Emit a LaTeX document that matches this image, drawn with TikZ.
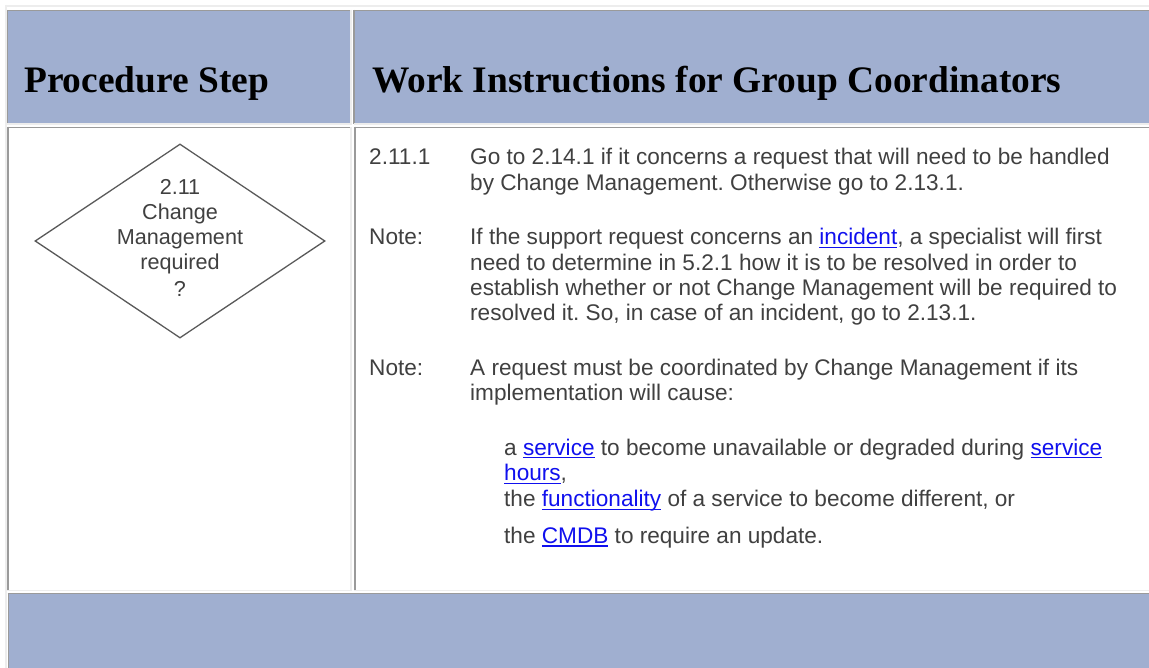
\documentclass[tikz,border=0pt]{standalone}
\usepackage{fontspec}
\setmainfont{Liberation Sans}
\newfontfamily\headfont{Liberation Serif}
\usetikzlibrary{shapes.geometric}
\frenchspacing

\definecolor{headblue}{HTML}{A0AFD0}
\definecolor{edgedark}{HTML}{9A9A9A}
\definecolor{edgelight}{HTML}{EDEDED}
\definecolor{bodygray}{HTML}{404040}
\definecolor{linkblue}{HTML}{1010EE}
\definecolor{shapegray}{HTML}{5A5A5A}

% underlined hyperlink-style text
\newcommand\weblink[1]{\textcolor{linkblue}{\setbox0\hbox{#1}\rlap{\rule[-3.4pt]{\wd0}{1.4pt}}\box0}}

\begin{document}
\begin{tikzpicture}[x=1pt,y=-1pt,
  darkedge/.style={draw=edgedark,line width=1.5pt},
  lightedge/.style={draw=edgelight,line width=1.6pt},
  headcell/.style={fill=headblue},
  headtext/.style={anchor=base west,inner sep=0pt,text=black,
    font=\headfont\bfseries\fontsize{37.4}{44}\selectfont},
  body/.style={anchor=base west,inner sep=0pt,text=bodygray,
    font=\fontsize{22.6}{25.5}\selectfont},
  steptext/.style={anchor=base,inner sep=0pt,text=bodygray,
    font=\fontsize{21.6}{25}\selectfont},
  decision/.style={diamond,draw=shapegray,line width=1.3pt,
    minimum width=290pt,minimum height=194pt,inner sep=0pt}]
\useasboundingbox (0,0) rectangle (1149,668);
\fill[white] (0,0) rectangle (1149,668);

% outer table edge (top and left)
\draw[lightedge] (5,6) -- (1149,6);
\draw[lightedge] (6,5) -- (6,668);

% header row, left cell
\fill[headcell] (8,11) rectangle (350,123);
\draw[darkedge] (7,10.7) -- (351,10.7);
\draw[darkedge] (7.7,10) -- (7.7,124);
\draw[lightedge] (7,123.8) -- (351.6,123.8);
\draw[lightedge] (350.8,10) -- (350.8,124.5);

% header row, right cell
\fill[headcell] (354.5,11) rectangle (1149,123);
\draw[darkedge] (353.5,10.7) -- (1149,10.7);
\draw[darkedge] (354.2,10) -- (354.2,124);
\draw[lightedge] (353.5,123.8) -- (1149,123.8);

% body row, left cell
\draw[darkedge] (7,127.4) -- (351,127.4);
\draw[darkedge] (8.2,126.7) -- (8.2,591);
\draw[lightedge] (7,590.6) -- (351.6,590.6);
\draw[lightedge] (350.8,126.7) -- (350.8,591.4);

% body row, right cell
\draw[darkedge] (354,127.4) -- (1149,127.4);
\draw[darkedge] (354.8,126.7) -- (354.8,591);
\draw[lightedge] (354,590.6) -- (1149,590.6);

% footer row
\fill[headcell] (8.5,594) rectangle (1149,668);
\draw[darkedge] (7.5,593.6) -- (1149,593.6);
\draw[darkedge] (8.3,593) -- (8.3,668);

% header labels
\node[headtext] (hstep) at (24,92.6) {Procedure Step};
\node[headtext] (hwork) at (372,92.6) {Work Instructions for Group Coordinators};

% decision step
\node[decision] (dec) at (180,241) {};
\node[steptext] (d1) at (180,195) {2.11};
\node[steptext] (d2) at (180,219.3) {Change};
\node[steptext] (d3) at (180,245) {Management};
\node[steptext] (d4) at (180,270) {required};
\node[steptext] (d5) at (180,297) {?};

% instruction labels
\node[body] (k1) at (369,164.3) {2.11.1};
\node[body] (k2) at (369,245) {Note:};
\node[body] (k3) at (369,375) {Note:};

% instruction 2.11.1
\node[body] (a1) at (470,164.3) {Go to 2.14.1 if it concerns a request that will need to be handled};
\node[body] (a2) at (470,190.7) {by Change Management. Otherwise go to 2.13.1.};

% first note
\node[body] (b1) at (470,245) {If the support request concerns an \weblink{incident}, a specialist will first};
\node[body] (b2) at (470,270.3) {need to determine in 5.2.1 how it is to be resolved in order to};
\node[body] (b3) at (470,295.7) {establish whether or not Change Management will be required to};
\node[body] (b4) at (470,321) {resolved it. So, in case of an incident, go to 2.13.1.};

% second note
\node[body] (c1) at (470,375) {A request must be coordinated by Change Management if its};
\node[body] (c2) at (470,400.7) {implementation will cause:};

% conditions
\node[body] (e1) at (504,455) {a \weblink{service} to become unavailable or degraded during \weblink{service}};
\node[body] (e2) at (504,480.7) {\weblink{hours},};
\node[body] (e3) at (504,506.7) {the \weblink{functionality} of a service to become different, or};
\node[body] (e4) at (504,543.3) {the \weblink{CMDB} to require an update.};
\end{tikzpicture}
\end{document}
